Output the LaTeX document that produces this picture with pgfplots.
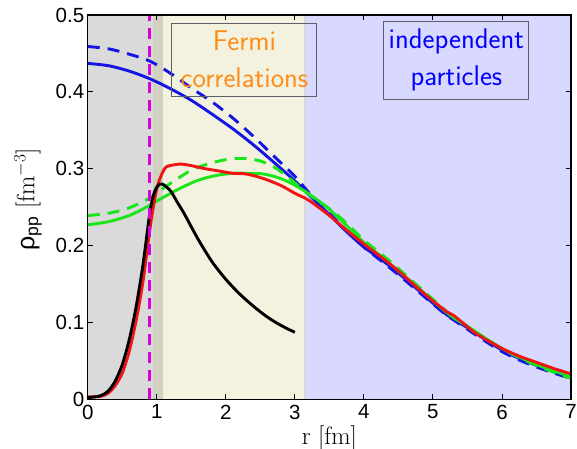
\documentclass[border=0pt]{standalone}
\usepackage{fontspec}
\usepackage{pgfplots}
\pgfplotsset{compat=1.18}
\newfontfamily\tickfont{Liberation Sans}

\definecolor{shgray}{rgb}{0.855,0.855,0.855}
\definecolor{shband}{rgb}{0.82,0.82,0.76}
\definecolor{shyel}{rgb}{0.95,0.95,0.87}
\definecolor{shlav}{rgb}{0.85,0.85,1.0}
\definecolor{cblue}{rgb}{0.08,0.08,0.9}
\definecolor{cgreen}{rgb}{0.1,0.9,0.1}
\definecolor{cred}{rgb}{0.95,0.08,0.08}
\definecolor{cmag}{rgb}{0.85,0.0,0.85}
\definecolor{corange}{rgb}{1.0,0.55,0.1}
\definecolor{boxcol}{rgb}{0.35,0.38,0.4}

\begin{document}
\begin{tikzpicture}
\begin{axis}[name=ax, scale only axis, width=483pt, height=384pt,
  xmin=0, xmax=7, ymin=0, ymax=0.5,
  xtick={0,1,2,3,4,5,6,7}, ytick={0,0.1,0.2,0.3,0.4,0.5},
  tick pos=both, tick align=inside, major tick length=5pt,
  tick style={line width=0.9pt, black},
  axis line style={line width=1.3pt, black},
  axis on top,
  /pgf/number format/assume math mode=true,
  tick label style={font=\tickfont\fontsize{20.5}{20.5}\selectfont},
  xticklabel style={yshift=-2pt},
  xlabel={r [fm]}, ylabel={{\tickfont ρ\textsubscript{pp}} [fm$^{-3}$]},
  label style={font=\fontsize{25}{25}\selectfont},
  xlabel style={at={(axis description cs:0.5,0)}, anchor=north, yshift=-23pt},
  ylabel style={at={(axis description cs:-0.088,0.52)}, anchor=south},
  clip=true]

% background regions
\addplot[fill=shgray, draw=none] coordinates {(0,0.5) (0.94,0.5)} \closedcycle;
\addplot[fill=shband, draw=none] coordinates {(0.94,0.5) (1.087,0.5)} \closedcycle;
\addplot[fill=shyel, draw=none] coordinates {(1.087,0.5) (3.15,0.5)} \closedcycle;
\addplot[fill=shlav, draw=none] coordinates {(3.15,0.5) (7,0.5)} \closedcycle;
\addplot[draw=black!15, line width=1.5pt] coordinates {(3.15,0) (3.15,0.5)};

% blue dashed
\addplot[cblue, line width=2.9pt, dash pattern=on 12pt off 8pt, smooth] coordinates {
 (0,0.459) (0.3,0.456) (0.6,0.449) (0.9,0.440) (1.2,0.424) (1.5,0.405) (1.8,0.387)
 (2.1,0.366) (2.4,0.342) (2.7,0.316) (3.0,0.290) (3.25,0.264) (3.5,0.242) (3.75,0.219)
 (4.0,0.198) (4.25,0.180) (4.5,0.162) (4.75,0.143) (5.0,0.124) (5.2,0.109) (5.3,0.103)
 (5.5,0.091) (5.75,0.076) (6.0,0.062) (6.25,0.051) (6.5,0.042) (6.75,0.034) (7.0,0.027)};
% blue solid
\addplot[cblue, line width=2.9pt, smooth] coordinates {
 (0,0.437) (0.3,0.434) (0.6,0.427) (0.9,0.417) (1.2,0.404) (1.5,0.389) (1.8,0.371)
 (2.1,0.352) (2.4,0.331) (2.7,0.308) (3.0,0.284) (3.25,0.262) (3.5,0.240) (3.75,0.218)
 (4.0,0.198) (4.25,0.182) (4.5,0.164) (4.75,0.145) (5.0,0.125) (5.2,0.110) (5.3,0.104)
 (5.5,0.093) (5.75,0.078) (6.0,0.064) (6.25,0.053) (6.5,0.044) (6.75,0.036) (7.0,0.028)};
% green dashed
\addplot[cgreen, line width=2.9pt, dash pattern=on 12pt off 8pt, smooth] coordinates {
 (0,0.239) (0.3,0.242) (0.6,0.249) (0.9,0.262) (1.1,0.275) (1.3,0.287) (1.5,0.298)
 (1.7,0.305) (1.9,0.310) (2.1,0.313) (2.3,0.313) (2.5,0.310) (2.7,0.302) (2.9,0.289)
 (3.1,0.274) (3.3,0.260) (3.5,0.248) (3.75,0.229) (4.0,0.207) (4.25,0.189) (4.5,0.170)
 (4.75,0.150) (5.0,0.130) (5.2,0.114) (5.3,0.107) (5.5,0.095) (5.75,0.080) (6.0,0.066)
 (6.25,0.054) (6.5,0.044) (6.75,0.035) (7.0,0.027)};
% green solid
\addplot[cgreen, line width=2.9pt, smooth] coordinates {
 (0,0.227) (0.3,0.231) (0.6,0.239) (0.85,0.250) (1.1,0.263) (1.35,0.275) (1.6,0.285)
 (1.85,0.291) (2.1,0.294) (2.3,0.294) (2.55,0.293) (2.8,0.287) (3.05,0.276) (3.3,0.261)
 (3.5,0.247) (3.75,0.226) (4.0,0.204) (4.25,0.186) (4.5,0.167) (4.75,0.148) (5.0,0.128)
 (5.2,0.113) (5.3,0.106) (5.5,0.095) (5.75,0.080) (6.0,0.066) (6.25,0.055) (6.5,0.045)
 (6.75,0.037) (7.0,0.029)};
% red
\addplot[cred, line width=2.9pt, smooth] coordinates {
 (0,0.003) (0.1,0.003) (0.2,0.004) (0.3,0.008) (0.4,0.018) (0.5,0.034) (0.6,0.062)
 (0.7,0.102) (0.8,0.153) (0.9,0.221) (0.95,0.250) (1.0,0.274) (1.05,0.288) (1.1,0.298)
 (1.15,0.303) (1.25,0.305) (1.35,0.306) (1.5,0.304) (1.7,0.300) (1.9,0.297) (2.1,0.294)
 (2.3,0.293) (2.55,0.287) (2.8,0.278) (3.0,0.268) (3.2,0.259) (3.5,0.239) (3.75,0.220)
 (4.0,0.202) (4.25,0.185) (4.5,0.167) (4.75,0.147) (5.0,0.128) (5.2,0.114) (5.3,0.109)
 (5.45,0.098) (5.6,0.087) (5.8,0.076) (6.0,0.066) (6.25,0.056) (6.5,0.048) (6.75,0.040)
 (7.0,0.033)};
% black
\addplot[black, line width=2.9pt, smooth] coordinates {
 (0,0.002) (0.1,0.003) (0.2,0.005) (0.3,0.011) (0.4,0.024) (0.5,0.045) (0.6,0.077)
 (0.7,0.120) (0.8,0.175) (0.9,0.243) (0.95,0.265) (1.0,0.276) (1.05,0.280) (1.1,0.279)
 (1.2,0.271) (1.3,0.256) (1.4,0.241) (1.6,0.208) (1.8,0.179) (2.0,0.156) (2.2,0.137)
 (2.4,0.121) (2.6,0.107) (2.8,0.096) (3.0,0.087)};
% magenta marker line
\addplot[cmag, line width=2.9pt, dash pattern=on 11pt off 7pt] coordinates {(0.9,0) (0.9,0.5)};

\draw[boxcol, line width=1pt] (axis cs:1.22,0.4895) rectangle (axis cs:3.32,0.394);
\draw[boxcol, line width=1pt] (axis cs:4.28,0.492) rectangle (axis cs:6.39,0.390);
\node[font=\sffamily\fontsize{28.5}{36.7}\selectfont, text=corange, align=center]
  at (axis cs:2.27,0.442) {Fermi\\correlations};
\node[font=\sffamily\fontsize{28.5}{36.7}\selectfont, text=blue, align=center]
  at (axis cs:5.34,0.442) {independent\\particles};
\end{axis}
\pgfresetboundingbox
\path[use as bounding box] ([shift={(-87.7pt,-49.3pt)}]ax.south west) rectangle ([shift={(6pt,15pt)}]ax.north east);
\end{tikzpicture}
\end{document}
